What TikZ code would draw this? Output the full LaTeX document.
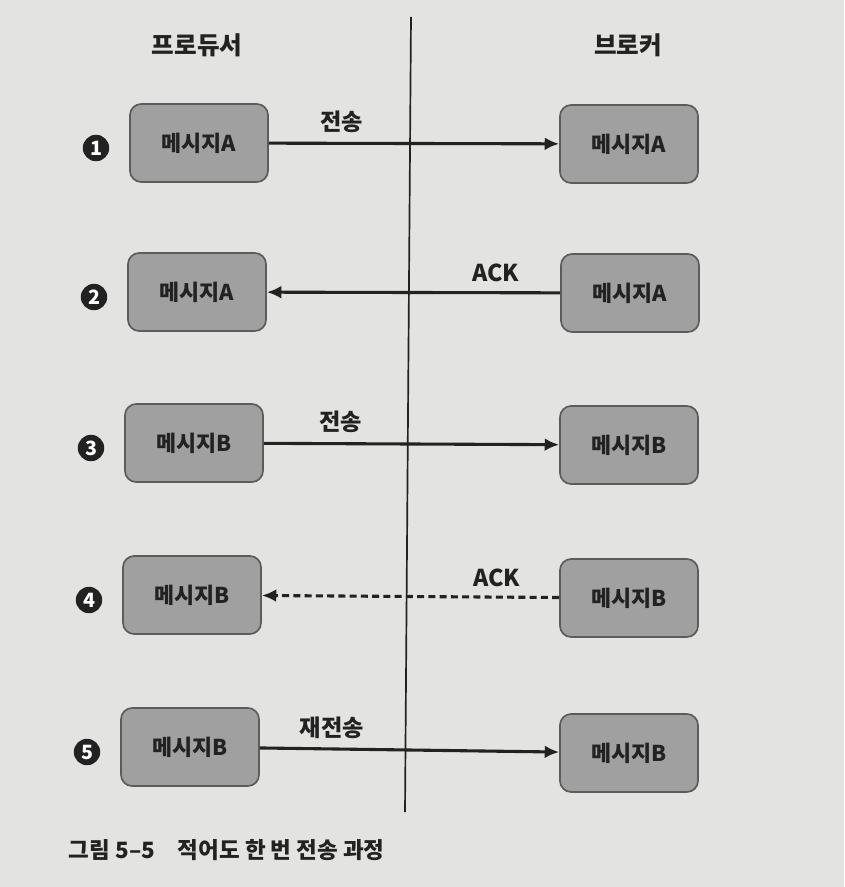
\documentclass[tikz,border=0pt]{standalone}
\usepackage{fontspec}
\setmainfont{Noto Sans CJK KR}
\usetikzlibrary{arrows.meta}
\definecolor{paper}{HTML}{E3E3E1}
\definecolor{boxgray}{HTML}{A0A0A0}
\definecolor{boxline}{HTML}{5C5C5C}
\definecolor{ink}{HTML}{222222}
\tikzset{
  msg/.style={draw=boxline, line width=1.2pt, fill=boxgray, rounded corners=0.28cm,
    minimum width=3.45cm, minimum height=1.95cm, text=ink,
    font=\fontsize{15.5}{17}\selectfont\bfseries},
  hdr/.style={text=ink, font=\fontsize{17.5}{19}\selectfont\bfseries},
  lbl/.style={above=3pt, text=ink, font=\fontsize{16.5}{18}\selectfont\bfseries},
  num/.style={circle, fill=ink, text=white, inner sep=0pt, minimum size=0.66cm,
    font=\fontsize{14}{14}\selectfont\bfseries},
  flow/.style={draw=ink, line width=2.2pt},
  >={Latex[length=3.6mm,width=3.2mm]}
}
\begin{document}
\begin{tikzpicture}[x=0.025cm, y=-0.025cm]
  \fill [paper] (0, 0) rectangle (844, 887);
  \useasboundingbox (0, 0) rectangle (844, 887);

  \coordinate (top) at (411, 17);
  \coordinate (bottom) at (405, 812);
  \draw [ink, line width=1.2pt] (top) -- (bottom);

  \node [hdr] (producer) at (197, 45) {프로듀서};
  \node [hdr] (broker) at (628, 45) {브로커};

  \foreach \n/\lx/\ly/\rx/\ry/\m in {1/199/143/629/144/A, 2/197/292/630/293/A,
      3/194/443/629/445/B, 4/192/595/629/598/B, 5/190/747/629/753/B} {
    \node [num] (n\n) at (\lx - 103, \ly + 5) {\n};
    \node [msg] (p\n) at (\lx, \ly) {메시지\m};
    \node [msg] (b\n) at (\rx, \ry) {메시지\m};
  }

  \draw [flow, ->] (p1) -- (b1) node [lbl, pos=0.25] {전송};
  \draw [flow, ->] (b2) -- (p2) node [lbl, pos=0.22] {ACK};
  \draw [flow, ->] (p3) -- (b3) node [lbl, pos=0.26] {전송};
  \draw [flow, ->, dash pattern=on 5pt off 3pt] (b4) -- (p4) node [lbl, pos=0.21] {ACK};
  \draw [flow, ->] (p5) -- (b5) node [lbl, pos=0.24] {재전송};

  \node [anchor=west, text=ink, font=\fontsize{16}{18}\selectfont\bfseries] (caption)
    at (64, 850) {그림 5--5\quad 적어도 한 번 전송 과정};
\end{tikzpicture}
\end{document}
